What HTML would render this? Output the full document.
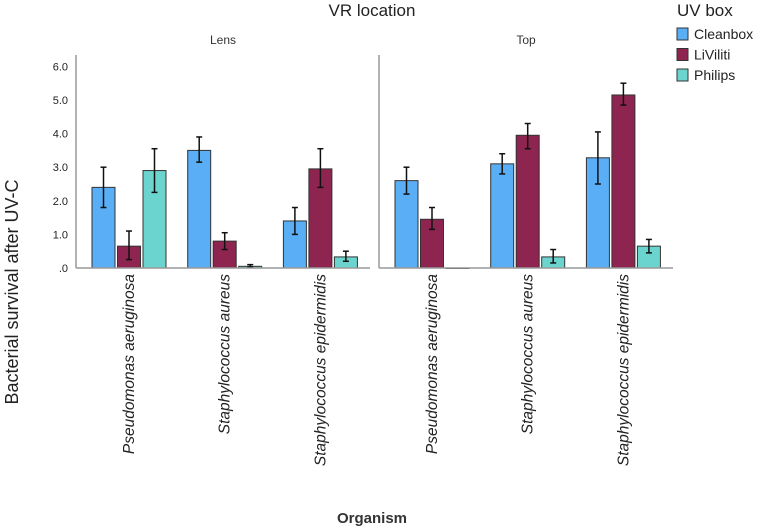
<!DOCTYPE html>
<html><head><meta charset="utf-8"><style>
html,body{margin:0;padding:0;background:#fff;}
svg{display:block;font-family:"Liberation Sans",sans-serif;}
</style></head><body>
<svg id="chart" width="763" height="529" viewBox="0 0 763 529">
<text x="372" y="16" font-size="17" text-anchor="middle" fill="#222">VR location</text>
<text x="677" y="16" font-size="17" fill="#222">UV box</text>
<text transform="translate(18,292) rotate(-90)" font-size="18" text-anchor="middle" fill="#222">Bacterial survival after UV-C</text>
<text x="372" y="523" font-size="15" font-weight="bold" text-anchor="middle" fill="#333">Organism</text>
<g id="plot"></g>
</svg>
<script>
const panels = ["Lens", "Top"];
const organisms = ["Pseudomonas aeruginosa", "Staphylococcus aureus", "Staphylococcus epidermidis"];
const seriesNames = ["Cleanbox", "LiViliti", "Philips"];
const colors = ["#5aaef5", "#8e2550", "#6bd4cf"];
const cleanboxVals = [[2.4, 3.5, 1.4], [2.6, 3.1, 3.28]];
const livilitiVals = [[0.65, 0.8, 2.95], [1.45, 3.95, 5.15]];
const philipsVals = [[2.9, 0.05, 0.33], [0.0, 0.33, 0.65]];
const cleanboxLo = [[1.8, 3.15, 1.0], [2.2, 2.8, 2.5]];
const cleanboxHi = [[3.0, 3.9, 1.8], [3.0, 3.4, 4.05]];
const livilitiLo = [[0.25, 0.55, 2.4], [1.15, 3.55, 4.85]];
const livilitiHi = [[1.1, 1.05, 3.55], [1.8, 4.3, 5.5]];
const philipsLo = [[2.25, 0.02, 0.2], [0.0, 0.15, 0.45]];
const philipsHi = [[3.55, 0.1, 0.5], [0.0, 0.55, 0.85]];
const yTicks = [0, 1, 2, 3, 4, 5, 6];
const yTickLabels = [".0", "1.0", "2.0", "3.0", "4.0", "5.0", "6.0"];

const NS = "http://www.w3.org/2000/svg";
const plot = document.getElementById("plot");
const y0 = 268, yTop = 55, unit = 33.6;
const panelX = [76, 379], panelW = 294, groupW = 95.7, barW = 23, barGap = 2.5, padL = 16;
function y(v){ return y0 - v*unit; }
function mk(tag, attrs, parent){ const e=document.createElementNS(NS,tag); for(const k in attrs) e.setAttribute(k,attrs[k]); (parent||plot).appendChild(e); return e; }

yTicks.forEach((t,i)=>{
  const tx = mk("text",{x:68,y:y(t)+4,"font-size":11,"text-anchor":"end",fill:"#222"});
  tx.textContent = yTickLabels[i];
  
  
});

const vals = [cleanboxVals, livilitiVals, philipsVals];
const los = [cleanboxLo, livilitiLo, philipsLo];
const his = [cleanboxHi, livilitiHi, philipsHi];

panels.forEach((p,pi)=>{
  const px = panelX[pi];
  const title = mk("text",{x:px+panelW/2,y:44,"font-size":12,"text-anchor":"middle",fill:"#333"});
  title.textContent = p;
  
  
  const ax = mk("line",{x1:px,y1:yTop,x2:px,y2:y0,stroke:"#999","stroke-width":1.5});
  
  
  organisms.forEach((o,gi)=>{
    const gx = px + padL + gi*groupW;
    seriesNames.forEach((s,si)=>{
      const v = vals[si][pi][gi];
      const bx = gx + si*(barW+barGap);
      const r = mk("rect",{x:bx,y:y(v),width:barW,height:Math.max(y0-y(v),0.5),fill:colors[si],stroke:"#333","stroke-width":1});
      
      
      const cx = bx + barW/2, lo = y(los[si][pi][gi]), hi = y(his[si][pi][gi]);
      if (Math.abs(lo-hi) > 0.5) {
        const eg = mk("g",{stroke:"#111","stroke-width":1.5});
        
        
        mk("line",{x1:cx,y1:lo,x2:cx,y2:hi},eg);
        mk("line",{x1:cx-3,y1:lo,x2:cx+3,y2:lo},eg);
        mk("line",{x1:cx-3,y1:hi,x2:cx+3,y2:hi},eg);
      }
    });
    const lx = gx + (3*barW+2*barGap)/2;
    const lab = mk("text",{transform:`translate(${lx+5},274) rotate(-90)`,"font-size":15.5,"font-style":"italic","text-anchor":"end",fill:"#222"});
    lab.textContent = o;
    
    
  });
  const base = mk("line",{x1:px,y1:y0,x2:px+panelW,y2:y0,stroke:"#999","stroke-width":1.5});
  
  
});

seriesNames.forEach((s,si)=>{
  const ly = 28 + si*20.5;
  const g = mk("g",{});
  
  
  mk("rect",{x:677,y:ly,width:11,height:12,fill:colors[si],stroke:"#333","stroke-width":1},g);
  const t = mk("text",{x:694,y:ly+11,"font-size":14,fill:"#222"},g);
  t.textContent = s;
});
</script>
</body></html>
